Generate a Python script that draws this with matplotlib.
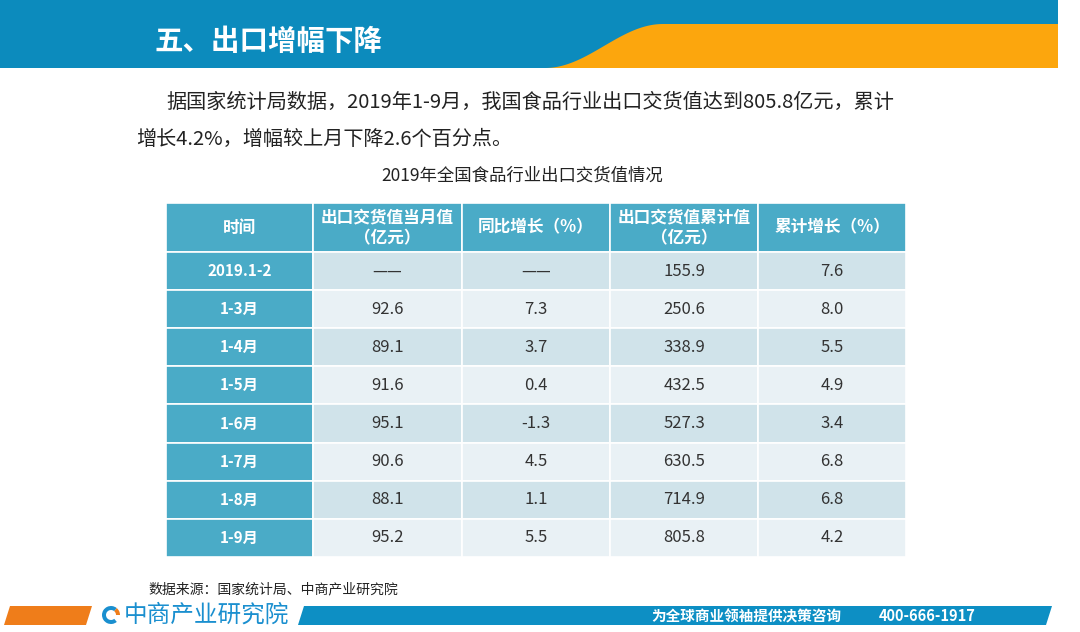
import matplotlib
matplotlib.use('Agg')
import matplotlib.pyplot as plt
from matplotlib.patches import Rectangle, Polygon, Wedge
import numpy as np

plt.rcParams['font.family'] = ['Noto Sans CJK SC', 'DejaVu Sans']

# 表格数据
headers = ['时间', '出口交货值当月值\n（亿元）', '同比增长（%）', '出口交货值累计值\n（亿元）', '累计增长（%）']
periods = ['2019.1-2', '1-3月', '1-4月', '1-5月', '1-6月', '1-7月', '1-8月', '1-9月']
month_val = ['——', '92.6', '89.1', '91.6', '95.1', '90.6', '88.1', '95.2']
month_yoy = ['——', '7.3', '3.7', '0.4', '-1.3', '4.5', '1.1', '5.5']
cum_val = ['155.9', '250.6', '338.9', '432.5', '527.3', '630.5', '714.9', '805.8']
cum_yoy = ['7.6', '8.0', '5.5', '4.9', '3.4', '6.8', '6.8', '4.2']

title = '五、出口增幅下降'
para1 = '据国家统计局数据，2019年1-9月，我国食品行业出口交货值达到805.8亿元，累计'
para2 = '增长4.2%，增幅较上月下降2.6个百分点。'
table_title = '2019年全国食品行业出口交货值情况'
source = '数据来源：国家统计局、中商产业研究院'

W, H = 1080, 632
fig = plt.figure(figsize=(W / 100, H / 100), dpi=100)
ax = fig.add_axes([0, 0, 1, 1])
ax.set_xlim(0, W)
ax.set_ylim(H, 0)
ax.axis('off')

blue = '#0c8bbd'
orange = '#fca60d'
teal = '#4aabc7'
row_a = '#d0e3ea'
row_b = '#e9f1f5'

# 顶部横幅
ax.add_patch(Rectangle((0, 0), 1058, 68, color=blue, lw=0))
t = np.linspace(0, 1, 60)
cx = 545 + 118 * t
cy = 68 - 44 * (0.5 - 0.5 * np.cos(np.pi * t))
pts = [(540, 68)] + list(zip(cx, cy)) + [(1058, 24), (1058, 68)]
ax.add_patch(Polygon(pts, closed=True, color=orange, lw=0))
ax.text(155, 42, title, fontsize=20.5, color='white', fontweight='bold', va='center', ha='left')

# 正文
ax.text(166, 102, para1, fontsize=14.5, color='#222222', va='center', ha='left')
ax.text(136, 139, para2, fontsize=14.5, color='#222222', va='center', ha='left')
ax.text(522, 176, table_title, fontsize=12.5, color='#222222', va='center', ha='center')

# 表格
x0, y0 = 166, 203
col_w = [147, 149, 148, 148, 148]
head_h = 49
row_h = 38.1
col_x = x0 + np.concatenate([[0], np.cumsum(col_w)])
columns = [periods, month_val, month_yoy, cum_val, cum_yoy]

for j, h in enumerate(headers):
    ax.add_patch(Rectangle((col_x[j], y0), col_w[j], head_h, facecolor=teal, edgecolor='white', lw=1.2))
    ax.text(col_x[j] + col_w[j] / 2, y0 + head_h / 2, h, fontsize=12, color='white',
            fontweight='bold', ha='center', va='center', linespacing=1.2)

for i in range(len(periods)):
    ry = y0 + head_h + i * row_h
    fill = row_a if i % 2 == 0 else row_b
    for j, col in enumerate(columns):
        fc = teal if j == 0 else fill
        ax.add_patch(Rectangle((col_x[j], ry), col_w[j], row_h, facecolor=fc, edgecolor='white', lw=1.2))
        if j == 0:
            ax.text(col_x[j] + col_w[j] / 2, ry + row_h / 2, col[i], fontsize=11, color='white',
                    fontweight='bold', ha='center', va='center')
        else:
            ax.text(col_x[j] + col_w[j] / 2, ry + row_h / 2, col[i], fontsize=12, color='#333333',
                    ha='center', va='center')

# 数据来源
ax.text(148, 589, source, fontsize=10, color='#222222', va='center', ha='left')

# 页脚
ax.add_patch(Polygon([(10, 606), (92, 606), (86, 625), (4, 625)], closed=True, color='#ef7d1a', lw=0))
ax.add_patch(Wedge((111, 615), 9, 50, 310, width=4, color='#1a8fcf', lw=0))
ax.add_patch(Wedge((111, 615), 9, 310, 360, width=4, color='#ef7d1a', lw=0))
ax.text(124, 615, '中商产业研究院', fontsize=17, color='#1a8fcf', va='center', ha='left')
ax.add_patch(Polygon([(304, 606), (1052, 606), (1046, 625), (298, 625)], closed=True, color='#0d8fc4', lw=0))
ax.text(651, 616, '为全球商业领袖提供决策咨询', fontsize=10.5, color='white', fontweight='bold', va='center', ha='left')
ax.text(879, 616, '400-666-1917', fontsize=10.5, color='white', fontweight='bold', va='center', ha='left')

fig.savefig('out.png', dpi=100, facecolor='white')
